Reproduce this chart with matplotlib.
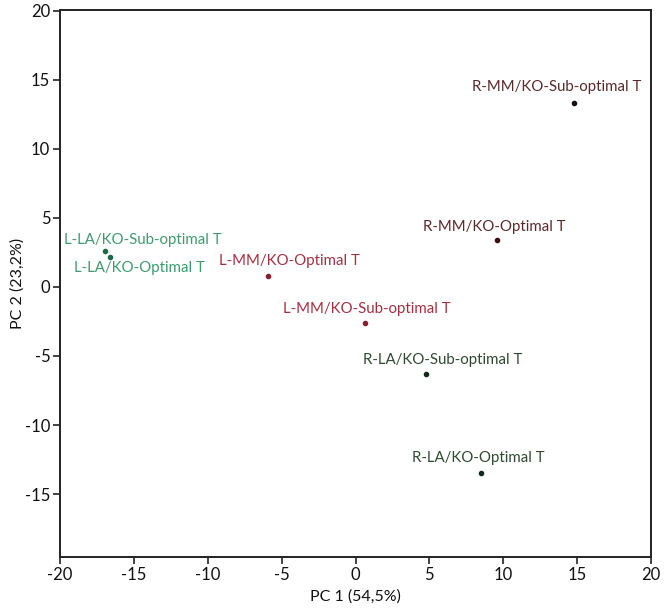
import matplotlib as mpl
mpl.use("Agg")
import matplotlib.pyplot as plt

# ---- data ----
sample_names = [
    "R-MM/KO-Sub-optimal T",
    "R-MM/KO-Optimal T",
    "L-LA/KO-Sub-optimal T",
    "L-LA/KO-Optimal T",
    "L-MM/KO-Optimal T",
    "L-MM/KO-Sub-optimal T",
    "R-LA/KO-Sub-optimal T",
    "R-LA/KO-Optimal T",
]
pc1 = [14.8, 9.6, -16.95, -16.6, -5.95, 0.65, 4.8, 8.5]
pc2 = [13.3, 3.4, 2.6, 2.2, 0.8, -2.6, -6.3, -13.5]

x_ticks = [-20, -15, -10, -5, 0, 5, 10, 15, 20]
y_ticks = [-15, -10, -5, 0, 5, 10, 15, 20]

# ---- style ----
FONT = ["Lato", "DejaVu Sans"]
label_colors = ["#5b2a2a", "#5b2a2a", "#3f9a6e", "#3f9a6e",
                "#a33040", "#a33040", "#2f4a30", "#2f4a30"]
dot_colors = ["#1a0f0f", "#3a0f0f", "#1f6a45", "#1f6a45",
              "#8a1f2c", "#8a1f2c", "#142a18", "#142a18"]
# label offsets from the dot, in pixels (dx, dy), screen up positive
label_offsets = [(-17, 16), (-3, 13), (38, 11), (29, -11),
                 (22, 15), (2, 14), (16, 14), (-3, 15)]

mpl.rcParams["font.family"] = FONT

fig = plt.figure(figsize=(6.66, 6.12), dpi=100)
ax = fig.add_axes([0.0901, 0.0899, 0.8874, 0.8938])

for i, name in enumerate(sample_names):
    ax.plot(pc1[i], pc2[i], "o", color=dot_colors[i], markersize=3.0, zorder=3)
    dx, dy = label_offsets[i]
    ax.annotate(name, (pc1[i], pc2[i]),
                xytext=(dx * 0.72, dy * 0.72), textcoords="offset points",
                ha="center", va="center", fontsize=10.8, color=label_colors[i])

ax.set_xlim(-20, 20)
ax.set_ylim(-19.55, 20.05)
ax.set_xticks(x_ticks)
ax.set_yticks(y_ticks)
ax.set_xticklabels([str(t) for t in x_ticks])
ax.set_yticklabels([str(t) for t in y_ticks])

ax.tick_params(axis="both", direction="out", length=5, width=1.2,
               color="#222222", labelsize=12, labelcolor="#111111", pad=2)
for side in ["left", "right", "top", "bottom"]:
    ax.spines[side].set_linewidth(1.4)
    ax.spines[side].set_color("#222222")

ax.set_xlabel("PC 1 (54,5%)", fontsize=11.5, color="#111111")
ax.set_ylabel("PC 2 (23,2%)", fontsize=11.5, color="#111111")
ax.xaxis.set_label_coords(0.5, -0.060)
ax.yaxis.set_label_coords(-0.059, 0.5)

fig.savefig("out.png", dpi=100)
